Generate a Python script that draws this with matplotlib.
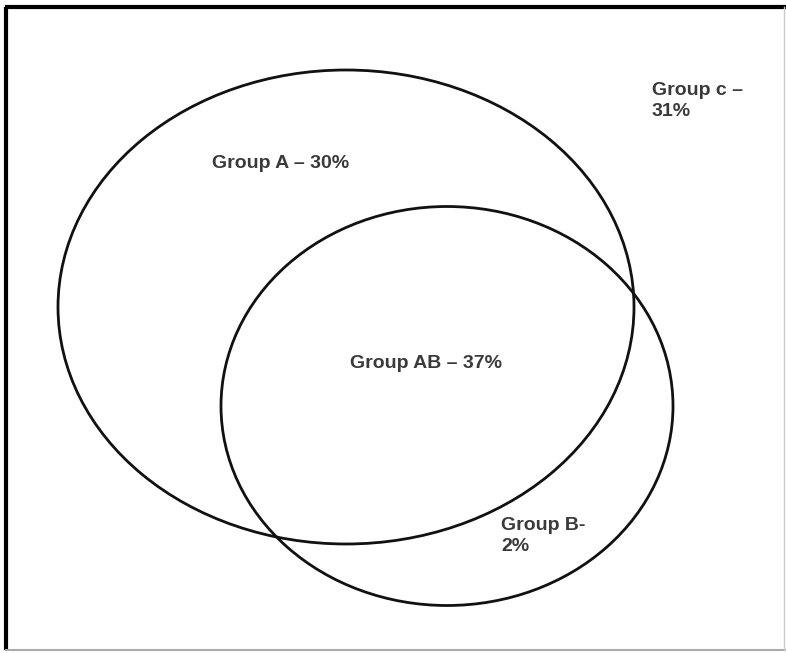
import matplotlib.pyplot as plt
from matplotlib.patches import Ellipse

# ellipses: centre x, centre y, width, height (in pixel-like units)
groups = ["Group A", "Group B"]
centers_x = [346, 447]
centers_y = [307, 406]
widths = [576, 452]
heights = [474, 399]

labels = ["Group A \u2013 30%", "Group c \u2013\n31%", "Group AB \u2013 37%", "Group B-\n2%"]
label_x = [212, 652, 350, 501]
label_y = [163, 101, 363, 536]

fig = plt.figure(figsize=(7.86, 6.53), dpi=100)
ax = fig.add_axes([0, 0, 1, 1])
ax.set_xlim(0, 786)
ax.set_ylim(653, 0)
ax.axis("off")

for cx, cy, w, h in zip(centers_x, centers_y, widths, heights):
    ax.add_patch(Ellipse((cx, cy), w, h, fill=False, edgecolor="#111111", lw=2.0))

for t, x, y in zip(labels, label_x, label_y):
    ax.text(x, y, t, ha="left", va="center", fontsize=14, fontweight="bold",
            color="#3a3a3a", family=["Liberation Sans", "DejaVu Sans"], linespacing=1.3)

# frame
ax.plot([6, 6], [7, 650], color="black", lw=3, solid_capstyle="butt")
ax.plot([5, 786], [7, 7], color="black", lw=3, solid_capstyle="butt")
ax.plot([6, 786], [650, 650], color="#aaaaaa", lw=1.5)
ax.plot([784, 784], [7, 650], color="#cccccc", lw=1)

fig.savefig("out.png", dpi=100)
